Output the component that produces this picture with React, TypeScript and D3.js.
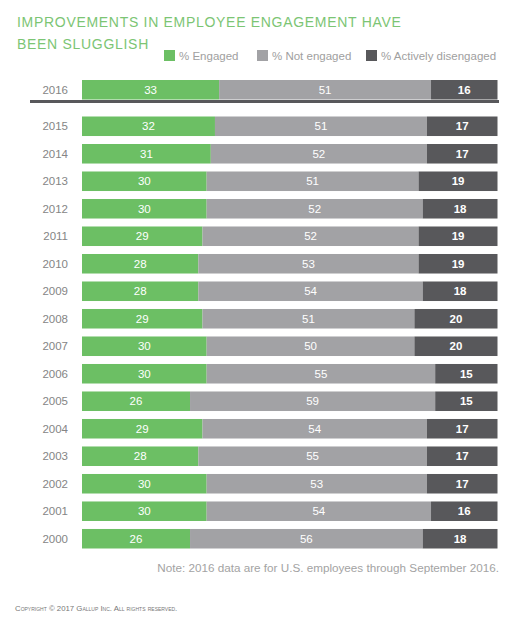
import React, { useEffect, useRef } from 'react';
import * as d3 from 'd3';

// Chart values
const years = ['2015', '2014', '2013', '2012', '2011', '2010', '2009', '2008', '2007', '2006', '2005', '2004', '2003', '2002', '2001', '2000'];
const engaged = [32, 31, 30, 30, 29, 28, 28, 29, 30, 30, 26, 29, 28, 30, 30, 26];
const notEngaged = [51, 52, 51, 52, 52, 53, 54, 51, 50, 55, 59, 54, 55, 53, 54, 56];
const activelyDisengaged = [17, 17, 19, 18, 19, 19, 18, 20, 20, 15, 15, 17, 17, 17, 16, 18];

const highlightYear = '2016';
const highlightValues = [33, 51, 16];

const seriesNames = ['% Engaged', '% Not engaged', '% Actively disengaged'];
const colors = ['#6cbf64', '#a2a2a5', '#58585b'];

const FONT = 'Liberation Sans, Arial, sans-serif';

const App: React.FC = () => {
  const svgRef = useRef<SVGSVGElement | null>(null);

  useEffect(() => {
    const svg = d3.select(svgRef.current);
    svg.selectAll('*').remove();

    const x = d3.scaleLinear().domain([0, 100]).range([82, 497.5]);
    const y = d3.scaleBand<string>().domain(years).range([116.5, 548.5]).paddingInner(0.29).paddingOuter(0);
    const bh = y.bandwidth();

    // title
    const title = svg.append('g').attr('fill', '#7cc574').attr('font-family', FONT).attr('font-size', 14).attr('letter-spacing', 0.7);
    title.append('text').attr('x', 17).attr('y', 27).text('IMPROVEMENTS IN EMPLOYEE ENGAGEMENT HAVE');
    title.append('text').attr('x', 17).attr('y', 49).text('BEEN SLUGGLISH');

    // legend
    const legendX = [164, 257, 366];
    const legend = svg.append('g').attr('font-family', FONT).attr('font-size', 11.5);
    seriesNames.forEach((name, i) => {
      legend.append('rect').attr('x', legendX[i]).attr('y', 50).attr('width', 11).attr('height', 11).attr('fill', colors[i]);
      legend.append('text').attr('x', legendX[i] + 15).attr('y', 60).attr('fill', '#a0a0a0').text(name);
    });

    // draws one stacked row
    const drawRow = (label: string, vals: number[], top: number) => {
      const row = svg.append('g');
      let acc = 0;
      vals.forEach((v, i) => {
        row.append('rect')
          .attr('x', x(acc))
          .attr('y', top)
          .attr('width', x(acc + v) - x(acc))
          .attr('height', bh)
          .attr('fill', colors[i]);
        row.append('text')
          .attr('x', (x(acc) + x(acc + v)) / 2)
          .attr('y', top + bh / 2 + 4)
          .attr('text-anchor', 'middle')
          .attr('fill', '#ffffff')
          .attr('font-family', FONT)
          .attr('font-size', 11.5)
          .attr('font-weight', i === 2 ? 'bold' : 'normal')
          .text(v);
        acc += v;
      });
      row.append('text')
        .attr('x', 68)
        .attr('y', top + bh / 2 + 4)
        .attr('text-anchor', 'end')
        .attr('fill', '#858585')
        .attr('font-family', FONT)
        .attr('font-size', 11.5)
        .text(label);
    };

    drawRow(highlightYear, highlightValues, 80);
    svg.append('rect').attr('x', 30).attr('y', 100).attr('width', 469).attr('height', 3).attr('fill', '#58585b');

    years.forEach((yr, i) => {
      drawRow(yr, [engaged[i], notEngaged[i], activelyDisengaged[i]], y(yr) as number);
    });

    // note
    svg.append('text')
      .attr('x', 499)
      .attr('y', 572)
      .attr('text-anchor', 'end')
      .attr('fill', '#a3a3a3')
      .attr('font-family', FONT)
      .attr('font-size', 11.7)
      .text('Note: 2016 data are for U.S. employees through September 2016.');

    // copyright
    svg.append('text')
      .attr('x', 15)
      .attr('y', 611)
      .attr('fill', '#777777')
      .attr('font-family', FONT)
      .attr('font-size', 7.8)
      .style('font-variant', 'small-caps')
      .text('Copyright © 2017 Gallup Inc. All rights reserved.');
  }, []);

  return (
    <svg
      ref={svgRef}
      width={520}
      height={627}
      style={{ position: 'absolute', left: 0, top: 0, background: '#ffffff' }}
    />
  );
};

export default App;
